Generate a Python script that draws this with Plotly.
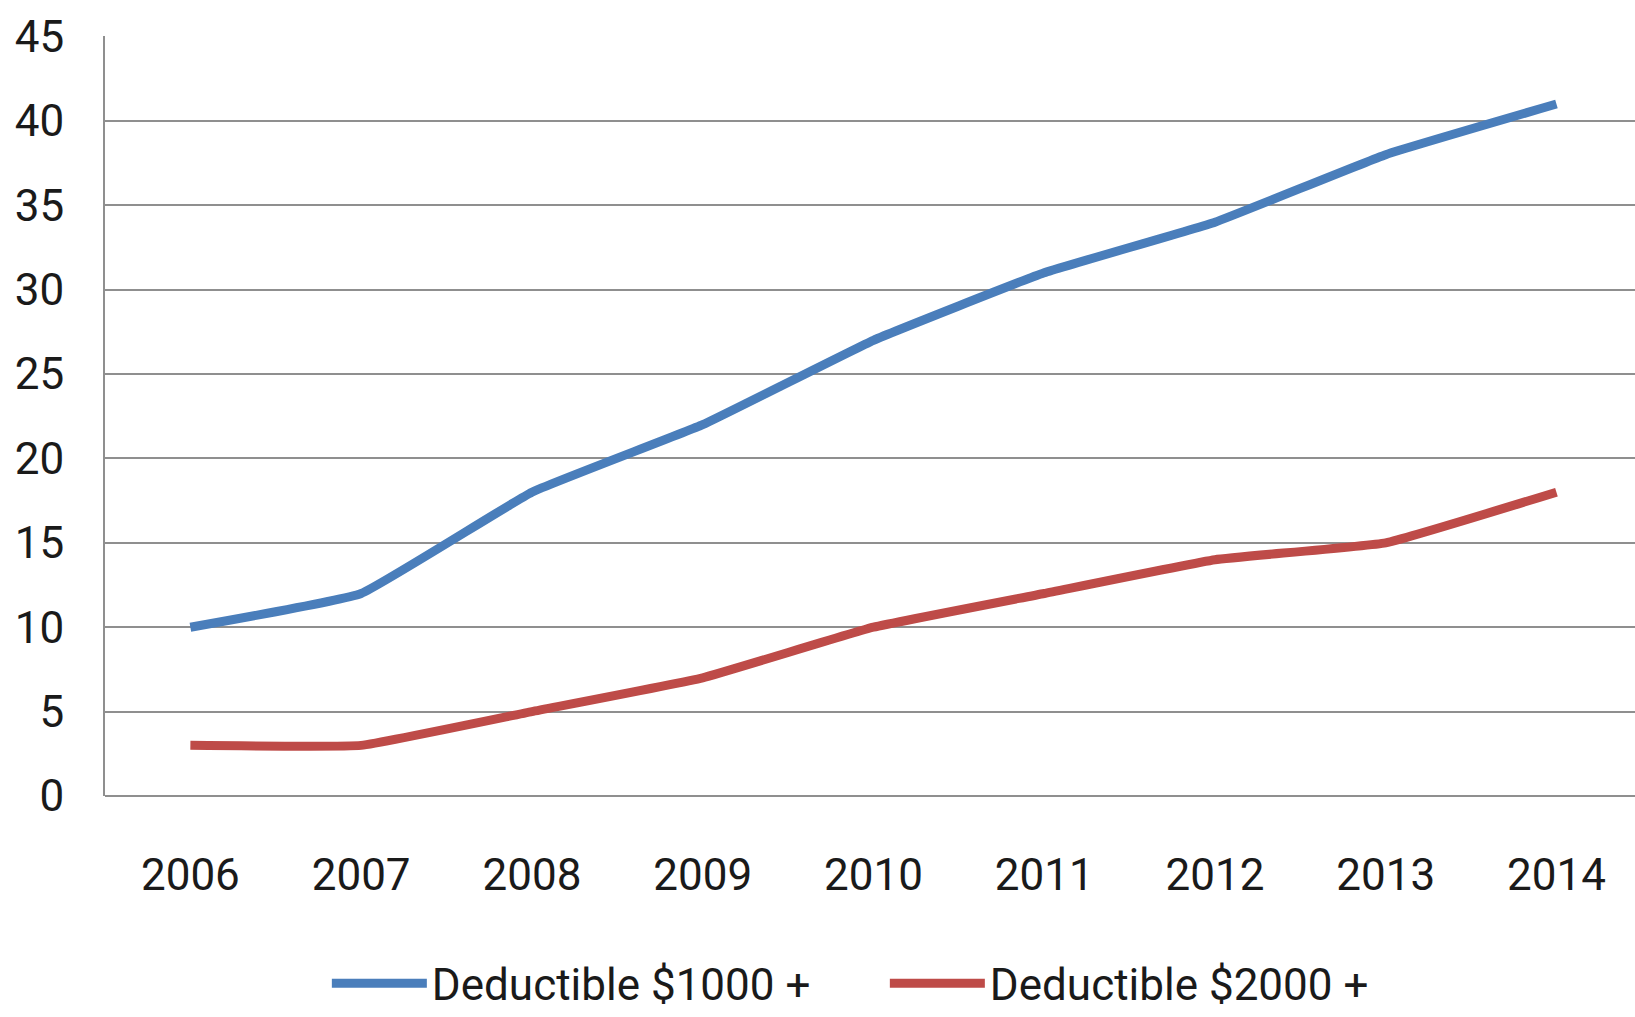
import plotly.graph_objects as go

years = ["2006", "2007", "2008", "2009", "2010", "2011", "2012", "2013", "2014"]
ded_1000 = [10, 12, 18, 22, 27, 31, 34, 38, 41]
ded_2000 = [3, 3, 5, 7, 10, 12, 14, 15, 18]
series_names = ["Deductible $1000 +", "Deductible $2000 +"]
colors = ["#4A7EBB", "#BE4B48"]
y_ticks = [0, 5, 10, 15, 20, 25, 30, 35, 40, 45]

FONT = "Roboto, Liberation Sans, sans-serif"
FS = 44

fig = go.Figure()
for name, vals, col in zip(series_names, [ded_1000, ded_2000], colors):
    fig.add_trace(go.Scatter(
        x=years, y=vals, name=name, mode="lines",
        line=dict(color=col, width=9, shape="spline", smoothing=0.3),
    ))

fig.update_layout(
    width=1635, height=1017,
    margin=dict(l=105, r=0, t=36, b=221, autoexpand=False),
    paper_bgcolor="white", plot_bgcolor="white",
    font=dict(family=FONT, size=FS, color="#1a1a1a"),
    showlegend=True,
    legend=dict(
        orientation="h", x=0.145, xanchor="left", y=-0.247, yanchor="middle",
        entrywidth=448, entrywidthmode="pixels", itemwidth=95,
        font=dict(family=FONT, size=FS, color="#1a1a1a"),
        bgcolor="rgba(0,0,0,0)", tracegroupgap=0,
    ),
    xaxis=dict(
        type="category", range=[-0.5, 8.46], automargin=False,
        showgrid=False, showline=False, zeroline=False,
        ticks="outside", ticklen=40, tickcolor="rgba(0,0,0,0)",
        tickfont=dict(family=FONT, size=FS, color="#1a1a1a"),
    ),
    yaxis=dict(
        range=[0, 45.03], tickvals=y_ticks, automargin=False,
        showgrid=True, gridcolor="#8f8f8f", gridwidth=2,
        showline=True, linecolor="#8f8f8f", linewidth=2,
        zeroline=True, zerolinecolor="#8f8f8f", zerolinewidth=2,
        ticks="outside", ticklen=30, tickcolor="rgba(0,0,0,0)",
        tickfont=dict(family=FONT, size=FS, color="#1a1a1a"),
    ),
)

fig.write_html("out.html")
